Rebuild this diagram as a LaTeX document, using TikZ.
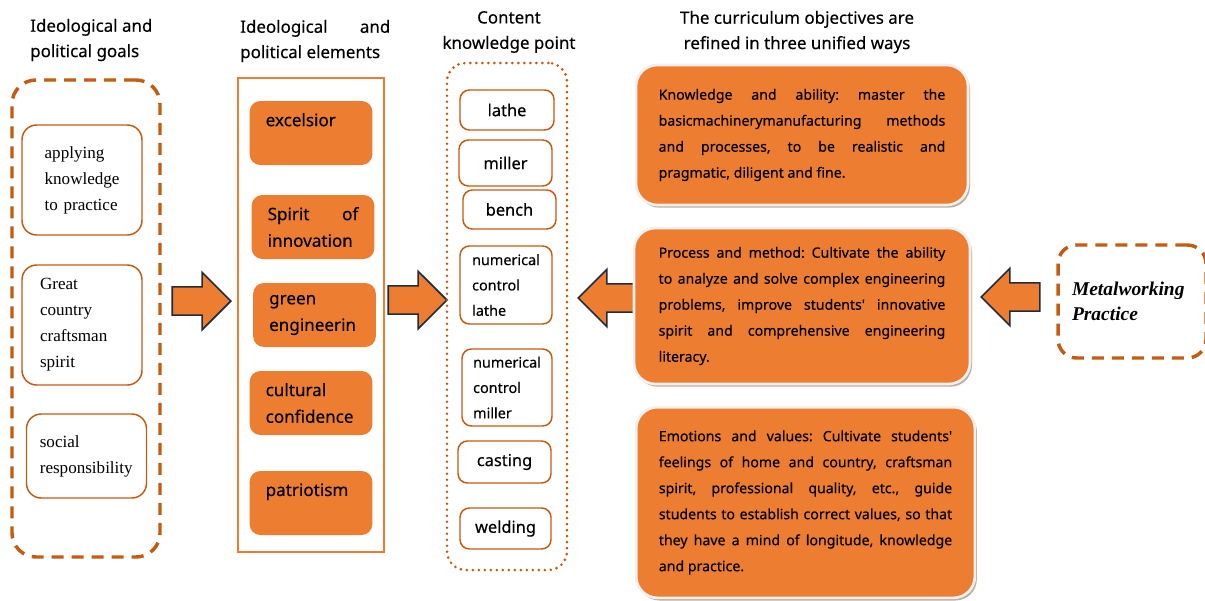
\documentclass[tikz,border=0pt]{standalone}
\usepackage{fontspec}
\setmainfont{Liberation Serif}
\setsansfont{Noto Sans}[FakeBold=0.3]
\usetikzlibrary{shapes.arrows,shadows}
\definecolor{darkOrange}{HTML}{C55A11}
\definecolor{lightOrange}{HTML}{ED7D31}
\definecolor{arrowEdge}{HTML}{1F2D3D}
\frenchspacing
\begin{document}
\begin{tikzpicture}
        [x=0.75pt, y=-0.75pt,
        head/.style={font=\sffamily\fontsize{12.7}{19}\selectfont, inner sep=0pt},
        frameDashed/.style={draw=darkOrange, line width=2.6pt, dash pattern=on 9pt off 6pt, rounded corners=18pt},
        frameDotted/.style={draw=darkOrange, line width=2.2pt, dash pattern=on 0pt off 4.5pt, line cap=round, rounded corners=14pt},
        goalBox/.style={draw=darkOrange, line width=1.1pt, rounded corners=11pt, fill=white, align=left, minimum width=90pt, font=\fontsize{12.8}{19.5}\selectfont},
        elemBox/.style={fill=lightOrange, rounded corners=8pt, inner xsep=12pt, text width=68pt, minimum height=48pt, align=left, font=\sffamily\fontsize{12.8}{20}\selectfont},
        knowBox/.style={draw=darkOrange, line width=1.1pt, rounded corners=7pt, fill=white, inner sep=0pt, font=\sffamily\fontsize{12.3}{19}\selectfont},
        knowSmall/.style={knowBox, align=left, font=\sffamily\fontsize{10.8}{19}\selectfont},
        objBox/.style={fill=lightOrange, draw=gray!12, line width=2pt, rounded corners=16pt, align=justify, drop shadow={shadow xshift=1.5pt, shadow yshift=-2pt, fill=brown!60!black, opacity=0.45}, font=\sffamily\fontsize{10.6}{19.5}\selectfont},
        bigArrow/.style={single arrow, draw=arrowEdge, fill=lightOrange, line width=1.2pt, minimum height=44pt, inner xsep=0pt, inner ysep=10pt, single arrow head extend=11pt, anchor=tip}]
        \useasboundingbox (0,0) rectangle (1205,600);

        % headings
        \node[head, align=left, anchor=west] (H1) at (30,40) {Ideological and\\political goals};
        \node[head, align=justify, text width=112.5pt, anchor=west] (H2) at (240,41) {Ideological and\linebreak political elements};
        \node[head, align=center] (H3) at (509,32) {Content\\knowledge point};
        \node[head, align=center] (H4) at (797,32) {The curriculum objectives are\\refined in three unified ways};

        % goals
        \node[frameDashed, minimum width=111pt, minimum height=357.75pt] (G) at (86,318.5) {};
        \node[goalBox, text width=56pt, inner xsep=17pt, minimum height=82.5pt] (G1) at (82,180) {applying\\knowledge\\to practice};
        \node[goalBox, text width=63pt, inner xsep=13.5pt, minimum height=90pt] (G2) at (82,325) {Great\\country\\craftsman\\spirit};
        \node[goalBox, text width=70pt, inner xsep=9.5pt, minimum height=63pt] (G3) at (86.5,456) {social\\responsibility};

        \node[bigArrow] (A1) at (232,301) {};

        % elements
        \node[draw=lightOrange, line width=1.5pt, minimum width=109.5pt, minimum height=355.5pt] (E) at (311,315) {};
        \node[elemBox] (E1) at (311,133) {excelsior\\~};
        \node[elemBox, align=justify] (E2) at (313,227) {Spirit of\linebreak innovation};
        \node[elemBox] (E3) at (314.5,315) {green\\engineerin};
        \node[elemBox] (E4) at (311,403) {cultural\\confidence};
        \node[elemBox] (E5) at (311,503) {patriotism\\~};

        \node[bigArrow] (A2) at (448,300) {};

        % knowledge points
        \node[frameDotted, minimum width=90pt, minimum height=380.25pt] (K) at (507,316.5) {};
        \node[knowBox, minimum width=70.5pt, minimum height=30pt] (K1) at (507,110) {lathe};
        \node[knowBox, minimum width=69.75pt, minimum height=34.5pt] (K2) at (505.5,163) {miller};
        \node[knowBox, minimum width=69.75pt, minimum height=29.25pt] (K3) at (509.5,209.5) {bench};
        \node[knowSmall, minimum width=69pt, minimum height=58.5pt] (K4) at (506,285) {numerical\\control\\lathe};
        \node[knowSmall, minimum width=67.5pt, minimum height=57.75pt] (K5) at (507,387.5) {numerical\\control\\miller};
        \node[knowBox, minimum width=69.75pt, minimum height=31.5pt] (K6) at (504.5,462) {casting};
        \node[knowBox, minimum width=68.25pt, minimum height=30.75pt] (K7) at (505.5,528.5) {welding};

        \node[bigArrow, shape border rotate=180] (A3) at (577,298) {};

        % objectives
        \node[objBox, text width=215pt, minimum width=249pt, minimum height=105pt] (O1) at (802,135) {Knowledge and ability: master the\linebreak basicmachinerymanufacturing methods\linebreak and processes, to be realistic and\linebreak pragmatic, diligent and fine.};
        \node[objBox, text width=215pt, minimum width=252pt, minimum height=117pt] (O2) at (802,306) {Process and method: Cultivate the ability\linebreak to analyze and solve complex engineering\linebreak problems, improve students\textquotesingle{} innovative\linebreak spirit and comprehensive engineering\linebreak literacy.};
        \node[objBox, text width=220pt, minimum width=254pt, minimum height=143pt] (O3) at (805.5,502.5) {Emotions and values: Cultivate students\textquotesingle\linebreak feelings of home and country, craftsman\linebreak spirit, professional quality, etc., guide\linebreak students to establish correct values, so that\linebreak they have a mind of longitude, knowledge\linebreak and practice.};

        \node[bigArrow, shape border rotate=180] (A4) at (980,297) {};

        \node[frameDashed, rounded corners=14pt, text width=90pt, inner xsep=10.5pt, minimum height=84.75pt, align=left, font=\bfseries\itshape\fontsize{14.6}{19.5}\selectfont] (M) at (1132,301.5) {Metalworking\\[-1pt]Practice};
    \end{tikzpicture}
\end{document}
